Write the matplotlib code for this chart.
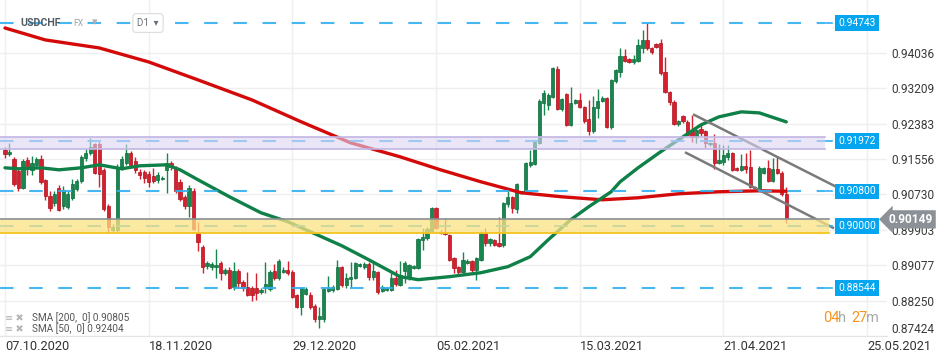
import numpy as np
import matplotlib
matplotlib.use("Agg")
import matplotlib.pyplot as plt
import matplotlib.transforms as mtransforms

# data (daily candles, USDCHF)
opens = [.9177,.9168,.9156,.9129,.9089,.9154,.9131,.9142,.9156,.9107,
         .9070,.9054,.9089,.9046,.9044,.9065,.9086,.9105,.9159,.9170,
         .9191,.9191,.9131,.9047,.8990,.8991,.9138,.9147,.9170,.9152,
         .9126,.9126,.9121,.9117,.9107,.9110,.9131,.9147,.9135,.9103,
         .9068,.9045,.9082,.8984,.8951,.8905,.8904,.8904,.8914,.8890,
         .8897,.8858,.8895,.8869,.8858,.8855,.8855,.8846,.8855,.8853,
         .8895,.8879,.8893,.8897,.8893,.8839,.8811,.8841,.8839,.8813,
         .8783,.8783,.8848,.8851,.8853,.8904,.8862,.8876,.8879,.8907,
         .8904,.8911,.8881,.8893,.8848,.8851,.8851,.8879,.8862,.8895,
         .8881,.8902,.8902,.8967,.8972,.8988,.9042,.8986,.8984,.8979,
         .8925,.8904,.8893,.8914,.8918,.8897,.8921,.8984,.8960,.8967,
         .8960,.8956,.9051,.9068,.9040,.9077,.9077,.9142,.9145,.9193,
         .9287,.9282,.9301,.9366,.9273,.9308,.9235,.9287,.9294,.9278,
         .9250,.9222,.9275,.9292,.9299,.9231,.9338,.9359,.9397,.9390,
         .9383,.9385,.9415,.9434,.9415,.9424,.9427,.9359,.9313,.9290,
         .9238,.9256,.9243,.9224,.9208,.9226,.9222,.9191,.9194,.9147,
         .9149,.9161,.9170,.9135,.9131,.9140,.9138,.9091,.9084,.9124,
         .9135,.9105,.9133,.9124,.9073]
highs = [.9184,.9194,.9160,.9135,.9157,.9161,.9163,.9160,.9165,.9110,
         .9080,.9080,.9096,.9092,.9080,.9110,.9110,.9166,.9180,.9206,
         .9193,.9195,.9135,.9050,.9003,.9144,.9163,.9191,.9175,.9160,
         .9133,.9131,.9128,.9135,.9126,.9115,.9170,.9152,.9140,.9110,
         .9072,.9094,.9089,.9009,.8956,.8918,.8916,.8946,.8918,.8902,
         .8904,.8916,.8900,.8874,.8893,.8860,.8890,.8855,.8916,.8897,
         .8911,.8923,.8904,.8918,.8897,.8841,.8858,.8857,.8846,.8816,
         .8811,.8855,.8883,.8862,.8921,.8907,.8890,.8916,.8916,.8914,
         .8916,.8916,.8914,.8895,.8862,.8858,.8890,.8897,.8918,.8918,
         .8911,.8909,.8972,.8995,.8998,.9044,.9044,.8989,.9018,.8981,
         .8928,.8907,.8939,.8923,.8921,.8928,.8988,.8995,.8972,.8970,
         .9021,.9056,.9086,.9070,.9100,.9082,.9149,.9177,.9198,.9295,
         .9317,.9310,.9371,.9374,.9298,.9310,.9324,.9296,.9310,.9280,
         .9294,.9303,.9319,.9303,.9301,.9343,.9366,.9415,.9413,.9392,
         .9399,.9436,.9457,.9474,.9418,.9427,.9436,.9394,.9315,.9294,
         .9247,.9259,.9247,.9259,.9226,.9238,.9224,.9196,.9215,.9191,
         .9189,.9189,.9172,.9138,.9168,.9170,.9177,.9093,.9140,.9138,
         .9154,.9159,.9161,.9129,.9091]
lows = [.9158,.9163,.9093,.9080,.9085,.9118,.9118,.9135,.9098,.9060,
        .9035,.9045,.9035,.9040,.9038,.9061,.9080,.9100,.9152,.9165,
        .9120,.9091,.9035,.8984,.8985,.8985,.9130,.9142,.9138,.9124,
        .9110,.9100,.9091,.9100,.9100,.9107,.9077,.9131,.9077,.9058,
        .9038,.9021,.8990,.8942,.8890,.8900,.8897,.8879,.8874,.8885,
        .8853,.8851,.8855,.8848,.8837,.8823,.8827,.8841,.8844,.8848,
        .8874,.8874,.8890,.8886,.8832,.8808,.8792,.8839,.8806,.8774,
        .8760,.8774,.8846,.8846,.8851,.8858,.8855,.8858,.8876,.8904,
        .8900,.8874,.8874,.8841,.8846,.8848,.8848,.8860,.8860,.8867,
        .8874,.8900,.8900,.8944,.8967,.8986,.8993,.8981,.8979,.8918,
        .8890,.8888,.8890,.8911,.8893,.8874,.8918,.8953,.8953,.8953,
        .8951,.8951,.9044,.9030,.9030,.9075,.9075,.9138,.9142,.9191,
        .9259,.9270,.9298,.9270,.9268,.9233,.9233,.9284,.9275,.9240,
        .9212,.9217,.9252,.9289,.9229,.9226,.9333,.9348,.9383,.9380,
        .9378,.9383,.9404,.9410,.9401,.9415,.9352,.9310,.9283,.9236,
        .9233,.9240,.9210,.9196,.9194,.9210,.9182,.9187,.9133,.9144,
        .9142,.9154,.9128,.9128,.9128,.9124,.9089,.9084,.9082,.9121,
        .9103,.9103,.9122,.9070,.9007]
closes = [.9168,.9173,.9098,.9089,.9152,.9138,.9147,.9156,.9103,.9070,
          .9042,.9075,.9037,.9084,.9075,.9098,.9105,.9161,.9170,.9183,
          .9124,.9122,.9040,.8998,.8998,.9138,.9156,.9170,.9142,.9131,
          .9119,.9112,.9103,.9105,.9119,.9112,.9147,.9138,.9080,.9063,
          .9045,.9089,.8993,.8961,.8904,.8914,.8911,.8909,.8890,.8897,
          .8855,.8895,.8867,.8855,.8839,.8839,.8844,.8851,.8865,.8893,
          .8879,.8918,.8897,.8890,.8834,.8811,.8855,.8853,.8809,.8781,
          .8788,.8853,.8855,.8858,.8904,.8862,.8879,.8881,.8914,.8911,
          .8911,.8881,.8895,.8846,.8858,.8855,.8879,.8865,.8886,.8914,
          .8909,.8907,.8970,.8974,.8993,.9042,.8995,.8984,.8981,.8921,
          .8902,.8893,.8921,.8918,.8897,.8925,.8984,.8960,.8970,.8956,
          .8953,.9054,.9068,.9042,.9098,.9080,.9147,.9149,.9196,.9292,
          .9310,.9305,.9369,.9273,.9296,.9235,.9287,.9294,.9278,.9245,
          .9222,.9278,.9292,.9299,.9231,.9341,.9364,.9397,.9385,.9383,
          .9390,.9422,.9434,.9415,.9406,.9418,.9357,.9313,.9290,.9238,
          .9245,.9245,.9212,.9208,.9224,.9217,.9194,.9194,.9147,.9154,
          .9166,.9170,.9131,.9131,.9140,.9133,.9091,.9089,.9135,.9135,
          .9105,.9133,.9124,.9073,.9015]

# moving averages read at sample bars
sma200_idx = [0, 9, 21, 32, 43, 55, 66, 77, 88, 97, 106, 115, 124, 133, 141, 150, 159, 168, 174]
sma200_val = [.94619, .94340, .94153, .93826, .93406, .92939, .92426, .91936, .91610, .91306,
              .91026, .90770, .90676, .90606, .90653, .90746, .90793, .90816, .90805]
sma50_idx = [0, 3, 8, 12, 17, 21, 26, 30, 36, 39, 43, 50, 57, 63, 68, 75, 81, 88, 92, 99,
             106, 112, 117, 121, 126, 130, 135, 137, 141, 146, 150, 155, 159, 164, 168, 174]
sma50_val = [.91353, .91330, .91353, .91306, .91353, .91423, .91330, .91400, .91423, .91306,
             .91073, .90676, .90303, .90093, .89860, .89533, .89206, .88810, .88740, .88810,
             .88903, .89043, .89277, .89673, .90140, .90443, .90793, .91026, .91353, .91726,
             .92006, .92356, .92543, .92660, .92636, .92426]

# channel trendlines (bar index, price)
upper_idx = [153.5, 186]
upper_val = [.92590, .90863]
lower_idx = [151.7, 184.4]
lower_val = [.91703, .89953]

levels = [0.94743, 0.91972, 0.90800, 0.90000, 0.88544]
purple_zone = (0.91796, 0.92076)
yellow_zone = (0.89836, 0.90149)
last_price = 0.90149

yticks = [0.94036, 0.93209, 0.92383, 0.91556, 0.90730, 0.89903, 0.89077, 0.88250, 0.87424]
date_idx = [0, 32, 64, 96, 128, 160, 192]
date_labels = ["07.10.2020", "18.11.2020", "29.12.2020", "05.02.2021",
               "15.03.2021", "21.04.2021", "25.05.2021"]

plt.rcParams['font.family'] = ['Roboto', 'DejaVu Sans']

GREEN = '#17874f'
RED = '#d81f2d'
BLUE = '#33aff0'

fig = plt.figure(figsize=(9.5, 3.61), dpi=100)
ax = fig.add_axes([0, 25/361, 887/950, 336/361])

o = np.array(opens); h = np.array(highs); l = np.array(lows); c = np.array(closes)
x = np.arange(len(o))
up = c >= o
cols = np.where(up, GREEN, RED)

# candles
ax.vlines(x, l, h, colors=cols, lw=1, zorder=3)
body_lo = np.minimum(o, c)
body_h = np.maximum(np.abs(c - o), 0.00006)
ax.bar(x, body_h, bottom=body_lo, width=0.72, color=cols,
       edgecolor=np.where(up, '#0e6b3c', '#a8141f'), lw=0.5, zorder=4)

# moving averages
ax.plot(sma200_idx, sma200_val, color='#d40a0a', lw=2.4, zorder=5, solid_capstyle='round')
ax.plot(sma50_idx, sma50_val, color='#0f8048', lw=2.4, zorder=5, solid_capstyle='round')

# trend channel
ax.plot(upper_idx, upper_val, color='#7a7a7a', lw=1.8, zorder=6)
ax.plot(lower_idx, lower_val, color='#7a7a7a', lw=1.8, zorder=6)

xmin, xmax = -1.11, 196.44
line_end = 182.6
ax.set_xlim(xmin, xmax)
ax.set_ylim(0.87434, 0.95273)

# horizontal levels
for lv in levels:
    ax.plot([xmin, line_end], [lv, lv], color=BLUE, lw=1.5,
            linestyle=(0, (6.5, 7.5)), zorder=6, alpha=0.9)
    ax.plot([line_end + 0.2, line_end + 1.7], [lv, lv], color=BLUE, lw=1.2, zorder=6)

# zones drawn on top so candles show through tinted
ax.fill_between([xmin, line_end], purple_zone[0], purple_zone[1],
                color='#ddd5f2', alpha=0.6, zorder=7, lw=0)
ax.plot([xmin, line_end], [purple_zone[0]] * 2, color='#c2b6e4', lw=1.2, zorder=7)
ax.plot([xmin, line_end], [purple_zone[1]] * 2, color='#c2b6e4', lw=1.2, zorder=7)
ax.fill_between([xmin, line_end + 1], yellow_zone[0], yellow_zone[1],
                color='#fde383', alpha=0.75, zorder=7, lw=0)
ax.plot([xmin, line_end + 1], [yellow_zone[0]] * 2, color='#f4c51c', lw=1.3, zorder=7)
ax.plot([xmin, line_end + 1], [last_price] * 2, color='#8a8f94', lw=1.2, zorder=7)

# level tags
trans = mtransforms.blended_transform_factory(ax.transAxes, ax.transData)
for lv in levels:
    ax.text(857/887, lv, f"{lv:.5f}", transform=trans, ha='center', va='center',
            fontsize=7.4, color='white', zorder=10,
            bbox=dict(boxstyle='square,pad=0.28', fc='#05a6ef', ec='none'))

ax.text(911/887, last_price, f"{last_price:.5f}", transform=trans, ha='center', va='center',
        fontsize=8.6, color='white', fontweight='bold', zorder=12, clip_on=False,
        bbox=dict(boxstyle='larrow,pad=0.22', fc='#8b9196', ec='none'))

# axes styling
ax.yaxis.tick_right()
ax.set_yticks(yticks)
ax.set_yticklabels([f"{v:.5f}" for v in yticks])
ax.tick_params(axis='y', length=0, pad=3, labelsize=8.6, labelcolor='#3a3a3a')
ax.get_yticklabels()[-1].set_va('bottom')
ax.set_xticks(date_idx)
ax.set_xticklabels(date_labels, ha='left')
ax.tick_params(axis='x', length=0, pad=3, labelsize=9.2, labelcolor='#333333')
ax.grid(True, color='#efefef', lw=1, zorder=0)
for s in ['top', 'right', 'left']:
    ax.spines[s].set_visible(False)
ax.spines['bottom'].set_color('#e4e4e4')

# header
fig.text(20/950, 1 - 23/361, "USDCHF", fontsize=7.6, fontweight='bold', color='#4f5a63', va='center')
fig.text(73/950, 1 - 24/361, "FX", fontsize=6.2, color='#9aa0a6', va='center')
fig.text(92/950, 1 - 22/361, "▾", fontsize=8, color='#b0b0b0', va='center')
fig.text(148/950, 1 - 23/361, "D1  ▾", fontsize=7, color='#6a7077', va='center', ha='center',
         bbox=dict(boxstyle='round,pad=0.45,rounding_size=0.3', fc='white', ec='#dcdcdc', lw=0.8))

# legend
fig.text(5/950, 1 - 318/361, "≡ ✖", fontsize=7, color='#b5b5b5', va='center')
fig.text(32/950, 1 - 318/361, "SMA [200,  0] 0.90805", fontsize=7.2, color='#555555', va='center')
fig.text(5/950, 1 - 329/361, "≡ ✖", fontsize=7, color='#b5b5b5', va='center')
fig.text(32/950, 1 - 329/361, "SMA [50,  0] 0.92404", fontsize=7.2, color='#555555', va='center')

# countdown
fig.text(823/950, 1 - 318/361, "04", fontsize=10.5, color='#f7941d', va='center')
fig.text(838/950, 1 - 318/361, "h", fontsize=10.5, color='#a9a9a9', va='center')
fig.text(851/950, 1 - 318/361, "27", fontsize=10.5, color='#f7941d', va='center')
fig.text(866/950, 1 - 318/361, "m", fontsize=10.5, color='#a9a9a9', va='center')

fig.savefig("out.png", dpi=100)
